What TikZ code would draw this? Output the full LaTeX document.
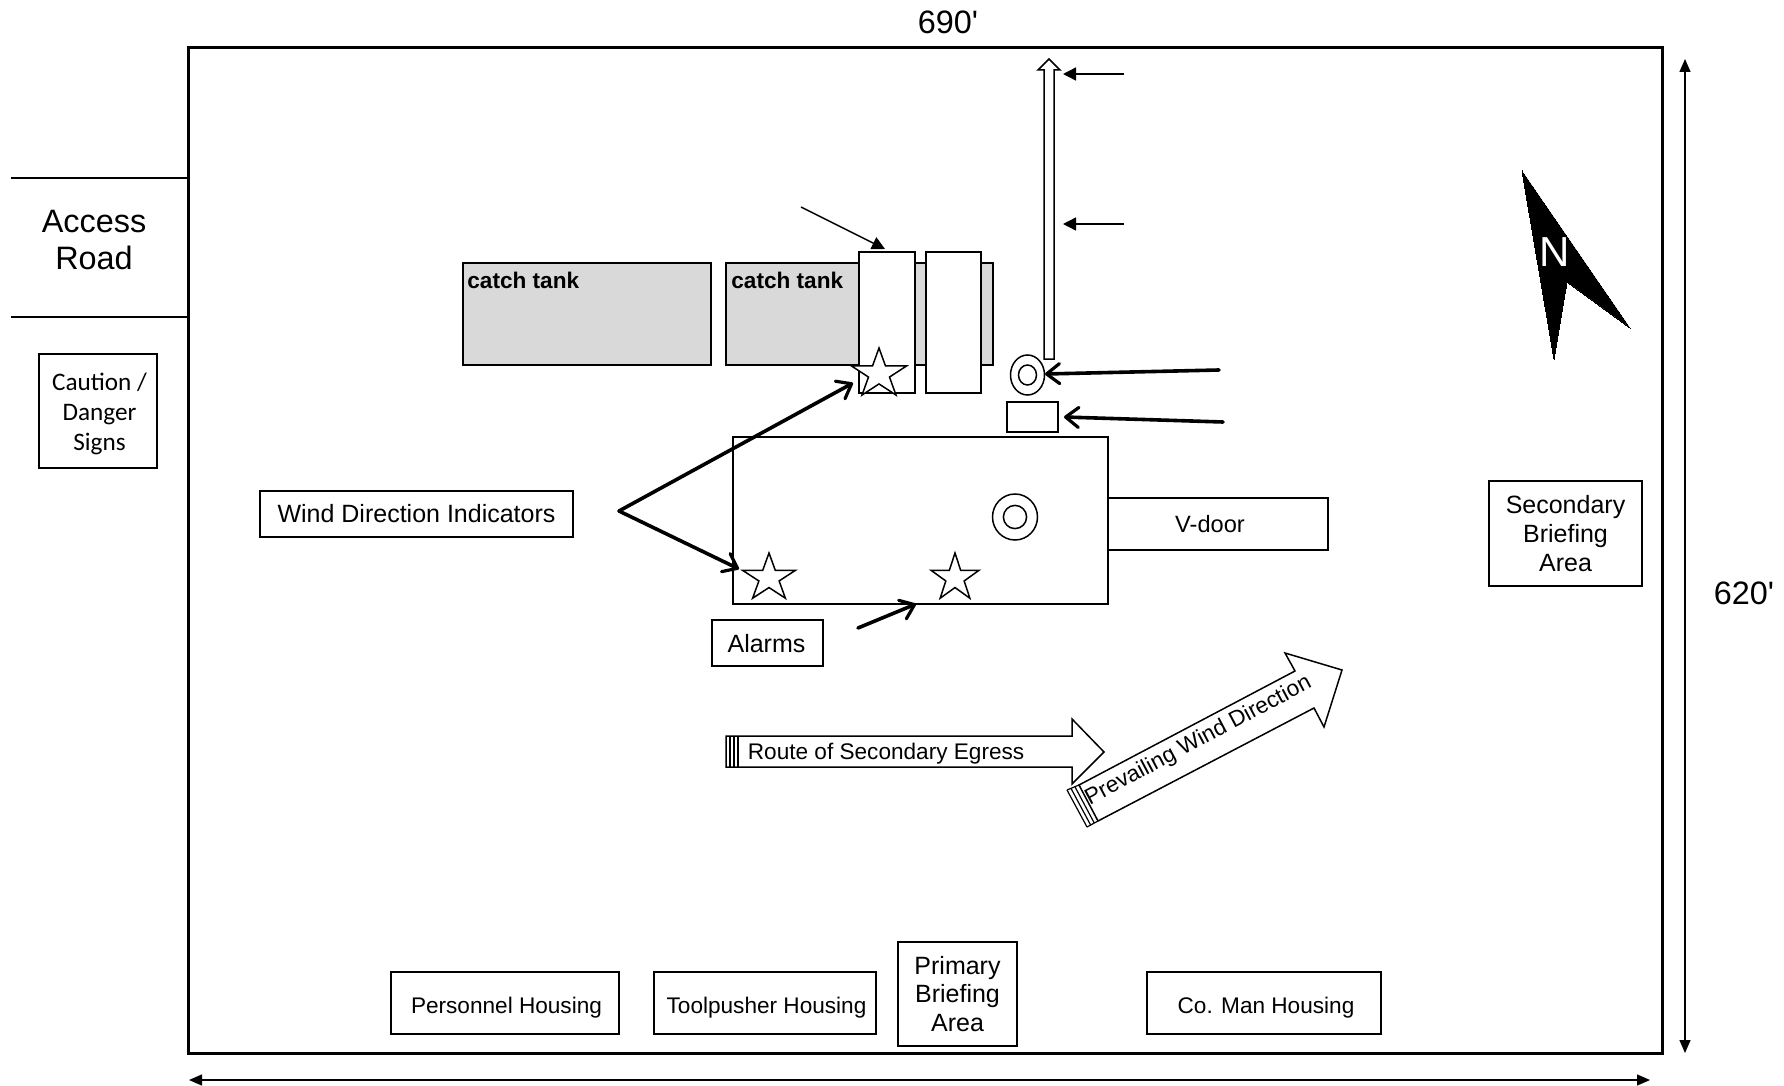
\documentclass[tikz,border=0pt]{standalone}
\usepackage{fontspec}
\setmainfont{Liberation Sans}
\newfontfamily\signfont{Carlito}
\newfontfamily\plainsans{Liberation Sans}
\usetikzlibrary{arrows.meta,shapes.geometric,calc}
\tikzset{
  x=0.5pt,y=-0.5pt,
  bx/.style={draw=black,line width=0.75pt,fill=white,inner sep=0pt,align=center,text=black},
  tank/.style={bx,fill=black!15},
  lbl/.style={inner sep=0pt,align=center,text=black},
  big/.style={font=\fontsize{16.2}{18.5}\selectfont},
  mid/.style={font=\fontsize{12.5}{14.3}\selectfont},
  sml/.style={font=\fontsize{11.3}{13}\selectfont},
  tanktxt/.style={lbl,anchor=base west,font=\fontsize{11.3}{13}\bfseries\selectfont},
  fstar/.style={star,star points=5,star point ratio=2.618,draw=black,line width=0.75pt,fill=white,minimum size=25pt,inner sep=0pt,transform shape},
  ring/.style={ellipse,draw=black,line width=0.75pt,fill=white,inner sep=0pt},
  thick arr/.style={line width=1.8pt,line cap=round,-{Straight Barb[length=6.5pt,width=10pt,line width=1.6pt,round]}},
  sharp arr/.style={line width=0.7pt,-{Triangle[length=6.5pt,width=6.5pt]}},
  dim arr/.style={line width=0.7pt,{Triangle[length=6.5pt,width=5.5pt]}-{Triangle[length=6.5pt,width=5.5pt]}},
  hollow/.style={draw=black,line width=0.75pt,fill=white,line join=miter},
  stripe/.style={line width=0.6pt},
}
\newcommand\pxbox[7][bx]{\node[#1,minimum width={(#5-#3)*0.5pt},minimum height={(#6-#4)*0.5pt}] (#2) at ({(#3+#5)/2},{(#4+#6)/2}) {#7};}
\begin{document}
\begin{tikzpicture}
\useasboundingbox[fill=white] (0,0) rectangle (1784,1086);
\pxbox{site}{189}{48}{1662}{1053}{}
\draw[line width=0.95pt] (site.north west) rectangle (site.south east);
% access road
\coordinate (ra) at (11,178); \coordinate (rb) at (187,178);
\coordinate (rc) at (11,317); \coordinate (rd) at (187,317);
\draw[line width=0.7pt] (ra)--(rb) (rc)--(rd);
\node[lbl,big] (road) at (94,240) {Access\\Road};
\pxbox{signs}{39}{354}{157}{468}{}
\node[lbl,font=\signfont\fontsize{12.6}{15}\selectfont] (signst) at (99.5,413.5) {Caution /\\Danger\\Signs};
\pxbox[bx,font=\fontsize{12.5}{14}\selectfont]{wdi}{260}{491}{573}{537}{Wind Direction Indicators}
% tanks
\pxbox[tank]{ct1}{463}{263}{711}{365}{}
\pxbox[tank]{ct2}{726}{263}{993}{365}{}
\node[tanktxt] (ct1t) at (467,288) {catch tank};
\node[tanktxt] (ct2t) at (731,288) {catch tank};
\pxbox{pit1}{859}{252}{915}{393}{}
\pxbox{pit2}{926}{252}{981}{393}{}
% rig
\pxbox{rig}{733}{437}{1108}{604}{}
\pxbox{vdoor}{1108}{498}{1328}{550}{}
\node[lbl,font=\fontsize{11.8}{13}\selectfont] (vdt) at (1210,524) {V-door};
\node[ring,minimum width=22.5pt,minimum height=23pt] (wo) at (1015,517) {};
\node[ring,minimum width=11.6pt,minimum height=11.6pt] (wi) at (1015,517) {};
\node[ring,minimum width=17pt,minimum height=20pt] (so) at (1027.5,375) {};
\node[ring,minimum width=9pt,minimum height=10pt] (si) at (1027.5,375) {};
\pxbox{gen}{1007}{402}{1058}{432}{}
% stars
\node[fstar,xscale=1.157,yscale=1.04] (s1) at (879,374) {};
\node[fstar,xscale=1.115] (s2) at (769,578) {};
\node[fstar,xscale=1.01] (s3) at (955,578) {};
% flare line
\coordinate (fl) at (1049,59);
\draw[hollow] (1044,359) -- (1044,70) -- (1038,70) -- (fl) -- (1060,70) -- (1054,70) -- (1054,359) -- cycle;
% pointers
\coordinate (p1a) at (1124,74); \coordinate (p1b) at (1063,74);
\coordinate (p2a) at (1124,224); \coordinate (p2b) at (1063,224);
\coordinate (p3a) at (801,207); \coordinate (p3b) at (885,249);
\coordinate (p4a) at (1219,370); \coordinate (p4b) at (1045,374);
\coordinate (p5a) at (1223,422); \coordinate (p5b) at (1064,417);
\coordinate (apex) at (619,511);
\coordinate (p6b) at (853,383); \coordinate (p7b) at (739,569);
\coordinate (p8a) at (858,628); \coordinate (p8b) at (916,604);
\draw[sharp arr] (p1a)--(p1b);
\draw[sharp arr] (p2a)--(p2b);
\draw[sharp arr] (p3a)--(p3b);
\draw[thick arr] (p4a)--(p4b);
\draw[thick arr] (p5a)--(p5b);
\draw[thick arr] (apex)--(p6b);
\draw[thick arr] (apex)--(p7b);
\draw[thick arr] (p8a)--(p8b);
\pxbox{alarms}{712}{620}{823}{666}{}
\node[lbl,font=\fontsize{12.5}{14}\selectfont] (alt) at (766.5,644) {Alarms};
% route arrow
\draw[hollow] (726,736) -- (1072,736) -- (1072,719) -- (1104,752) -- (1072,784) -- (1072,767) -- (726,767) -- cycle;
\foreach \xx in {730,734,738} \draw[stripe] (\xx,736)--(\xx,767);
\node[lbl,sml,anchor=base west] (route) at (747.5,759.5) {Route of Secondary Egress};
% wind arrow
\coordinate (wot) at (1067,790); \coordinate (wob) at (1087,827);
\coordinate (wit) at (1079,785); \coordinate (wib) at (1098,821);
\draw[hollow] (wit) -- (1295,671) -- (1285,653) -- (1342,670) -- (1324,727) -- (1314,708) -- (wib) -- cycle;
\foreach \tt in {0,0.33,0.66} \draw[stripe] ($(wot)!\tt!(wit)$) -- ($(wob)!\tt!(wib)$);
\draw[stripe] (wot)--(wit) (wob)--(wib);
\node[lbl,sml,rotate=28] (wind) at (1198.5,741) {Prevailing Wind Direction};
% other boxes
\pxbox[bx,mid]{sba}{1489}{481}{1642}{586}{Secondary\\Briefing\\Area}
\pxbox{ph}{391}{972}{619}{1034}{}
\node[lbl,sml] (pht) at (506.5,1008) {Personnel Housing};
\pxbox{th}{654}{972}{876}{1034}{}
\node[lbl,sml] (tht) at (766.5,1008) {Toolpusher Housing};
\pxbox[bx,mid]{pba}{898}{942}{1017}{1046}{Primary\\Briefing\\Area}
\pxbox{cm}{1147}{972}{1381}{1034}{}
\node[lbl,sml] (cmt) at (1266,1008) {Co. Man Housing};
% north
\draw[fill=black,line join=miter,line width=0pt] (1522,171) -- (1630,328) -- (1567,282) -- (1554,359) -- cycle;
\node[lbl,text=white,font=\fontsize{21}{21}\selectfont] (nn) at (1555,252) {N};
% dimensions
\node[lbl,font=\plainsans\fontsize{16.2}{18.5}\selectfont] (w690) at (948,22) {690'};
\node[lbl,font=\plainsans\fontsize{16.2}{18.5}\selectfont] (h620) at (1744,593) {620'};
\coordinate (dh1) at (189,1080); \coordinate (dh2) at (1650,1080);
\coordinate (dv1) at (1685,59); \coordinate (dv2) at (1685,1053);
\draw[dim arr] (dh1)--(dh2);
\draw[dim arr] (dv1)--(dv2);
\end{tikzpicture}
\end{document}
